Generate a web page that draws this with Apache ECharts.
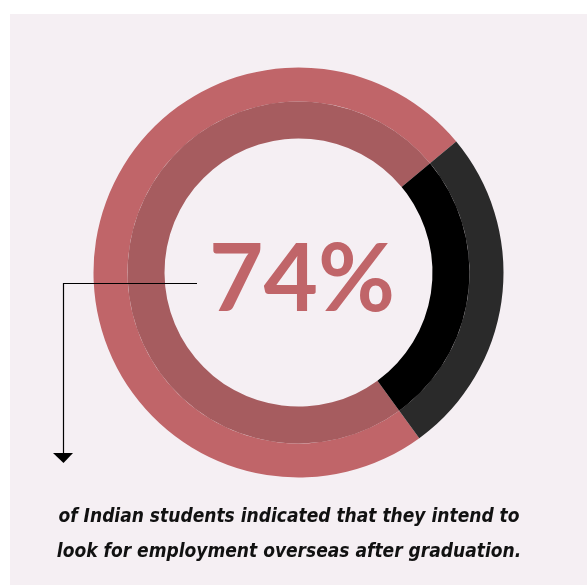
<!DOCTYPE html>
<html>
<head>
<meta charset="utf-8">
<script src="https://cdn.jsdelivr.net/npm/echarts@6/dist/echarts.min.js"></script>
<style>
  html, body { margin: 0; padding: 0; background: #ffffff; }
  #chart { width: 587px; height: 585px; }
</style>
</head>
<body>
<div id="chart"></div>
<script>
// Share of Indian students who intend to look for work overseas
const categories = ['Intend to work overseas', 'Other'];
const shareValues = [74, 26];
const caption = [
  'of Indian students indicated that they intend to',
  'look for employment overseas after graduation.'
];

const outerColors = ['#c06569', '#2a2a2a'];
const innerColors = ['#a65c5f', '#000000'];

const chart = echarts.init(document.getElementById('chart'), null, { renderer: 'canvas' });

function ring(radius, colors) {
  return {
    type: 'pie',
    center: [298.5, 272.5],
    radius: radius,
    startAngle: -53.9,
    clockwise: true,
    silent: true,
    label: { show: false },
    labelLine: { show: false },
    emphasis: { disabled: true },
    itemStyle: { borderWidth: 0 },
    data: categories.map((name, i) => ({
      name: name,
      value: shareValues[i],
      itemStyle: { color: colors[i] }
    }))
  };
}

chart.setOption({
  animation: false,
  backgroundColor: '#ffffff',
  graphic: [
    {
      type: 'rect', z: -10,
      shape: { x: 10, y: 14, width: 600, height: 600 },
      style: { fill: '#f5eff3' }
    },
    {
      type: 'polyline', z: 10,
      shape: { points: [[197, 283.5], [63.5, 283.5], [63.5, 454]] },
      style: { stroke: '#000000', lineWidth: 1.2, fill: null }
    },
    {
      type: 'polygon', z: 10,
      shape: { points: [[53, 453], [73, 453], [63.5, 463]] },
      style: { fill: '#000000' }
    },
    {
      type: 'text', z: 20,
      style: {
        text: shareValues[0] + '%',
        x: 302, y: 281,
        align: 'center', verticalAlign: 'middle',
        font: 'bold 94px Lato',
        fill: '#c06569'
      }
    },
    {
      type: 'text', z: 20,
      style: {
        text: caption.join('\n'),
        x: 289, y: 535,
        align: 'center', verticalAlign: 'middle',
        font: 'italic bold 19px "DejaVu Sans Condensed"',
        lineHeight: 35,
        fill: '#111111'
      }
    }
  ],
  series: [
    ring([171, 205], outerColors),
    ring([134, 171], innerColors)
  ]
});
</script>
</body>
</html>
